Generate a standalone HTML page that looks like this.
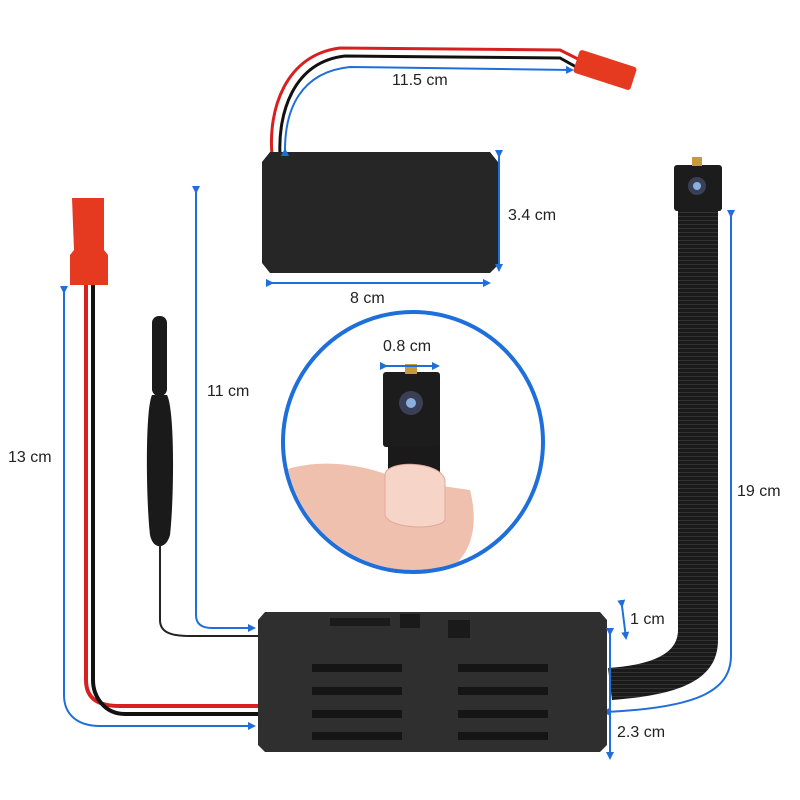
<!DOCTYPE html>
<html><head><meta charset="utf-8"><style>
html,body{margin:0;padding:0;background:#fff;}
svg{display:block}
text{font-family:"Liberation Sans",sans-serif;font-size:16px;fill:#222}
</style></head><body>
<svg width="800" height="800" viewBox="0 0 800 800" xmlns="http://www.w3.org/2000/svg">
<defs>
<marker id="ah" markerWidth="8" markerHeight="8" refX="6" refY="4" orient="auto" markerUnits="userSpaceOnUse">
<path d="M0,0 L8,4 L0,8 z" fill="#1e6fd9"/></marker>
<pattern id="rib" width="4" height="4" patternUnits="userSpaceOnUse"><rect width="4" height="4" fill="#1a1a1a"/><rect width="4" height="1" fill="#333"/></pattern>
</defs>
<rect width="800" height="800" fill="#fff"/>

<!-- battery wires -->
<path d="M272,155 C268,110 285,55 340,48 L560,50 L580,60" fill="none" stroke="#d82020" stroke-width="3"/>
<path d="M280,155 C278,115 292,62 345,56 L560,58 L578,68" fill="none" stroke="#111" stroke-width="3"/>
<g transform="rotate(18 605 70)"><rect x="575" y="58" width="60" height="24" rx="3" fill="#e53a1f"/></g>
<!-- battery -->
<path d="M270,152 L490,152 L498,162 L498,265 L490,273 L270,273 L262,263 L262,162 Z" fill="#262626"/>
<!-- blue arrows battery -->
<path d="M285,150 C285,110 300,72 350,67 L572,70" fill="none" stroke="#1e6fd9" stroke-width="2" marker-end="url(#ah)" marker-start="url(#ah)"/>
<text x="392" y="85">11.5 cm</text>
<line x1="499" y1="156" x2="499" y2="270" stroke="#1e6fd9" stroke-width="2" marker-end="url(#ah)" marker-start="url(#ah)"/>
<text x="508" y="220">3.4 cm</text>
<line x1="272" y1="283" x2="489" y2="283" stroke="#1e6fd9" stroke-width="2" marker-end="url(#ah)" marker-start="url(#ah)"/>
<text x="350" y="303">8 cm</text>

<!-- left red connector & wire -->
<path d="M72,198 L104,198 L104,250 L108,255 L108,285 L70,285 L70,255 L74,250 Z" fill="#e53a1f"/>
<path d="M86,285 L86,680 C86,700 100,706 120,706 L258,706" fill="none" stroke="#d82020" stroke-width="4"/>
<path d="M93,285 L93,680 C93,696 104,714 125,714 L258,714" fill="none" stroke="#111" stroke-width="4"/>
<path d="M64,292 L64,695 C64,715 78,726 100,726 L254,726" fill="none" stroke="#1e6fd9" stroke-width="2" marker-end="url(#ah)" marker-start="url(#ah)"/>
<text x="8" y="462">13 cm</text>

<!-- antenna -->
<rect x="152" y="316" width="15" height="80" rx="7" fill="#1a1a1a"/>
<path d="M152,395 C145,410 146,500 150,535 C153,550 166,550 170,535 C174,500 175,410 167,395 Z" fill="#1a1a1a"/>
<path d="M160,545 L160,620 C160,632 170,636 190,636 L258,636" fill="none" stroke="#222" stroke-width="2"/>
<path d="M196,192 L196,615 C196,624 202,628 212,628 L254,628" fill="none" stroke="#1e6fd9" stroke-width="2" marker-end="url(#ah)" marker-start="url(#ah)"/>
<text x="207" y="396">11 cm</text>

<!-- ribbon cable -->
<path d="M678,210 L718,210 L718,640 C718,680 680,695 612,700 L608,668 C650,665 678,655 678,630 Z" fill="url(#rib)"/>
<rect x="674" y="165" width="48" height="46" rx="3" fill="#1c1c1c"/>
<rect x="692" y="157" width="10" height="9" fill="#c49a3a"/>
<circle cx="697" cy="186" r="9" fill="#3a3f55"/><circle cx="697" cy="186" r="4" fill="#8ab0e0"/>
<path d="M731,216 L731,655 C731,690 700,708 604,712" fill="none" stroke="#1e6fd9" stroke-width="2" marker-end="url(#ah)" marker-start="url(#ah)"/>
<text x="737" y="496">19 cm</text>

<!-- circle inset -->
<circle cx="413" cy="442" r="130" fill="#fff" stroke="#1e6fd9" stroke-width="4"/>
<clipPath id="cc"><circle cx="413" cy="442" r="128"/></clipPath>
<g clip-path="url(#cc)">
<rect x="388" y="440" width="52" height="130" fill="#1a1a1a"/>
<path d="M285,470 C330,455 380,470 400,480 L470,490 C480,530 470,560 440,575 L285,575 Z" fill="#f0c0ae"/>
<path d="M385,475 C385,460 440,460 445,480 L445,520 C440,530 390,530 385,515 Z" fill="#f6d4c8" stroke="#e0a898"/>
</g>
<rect x="383" y="372" width="57" height="75" rx="3" fill="#1c1c1c"/>
<rect x="405" y="364" width="12" height="10" fill="#c49a3a"/>
<circle cx="411" cy="403" r="12" fill="#3a3f55"/><circle cx="411" cy="403" r="5" fill="#8ab0e0"/>
<line x1="386" y1="366" x2="438" y2="366" stroke="#1e6fd9" stroke-width="2" marker-end="url(#ah)" marker-start="url(#ah)"/>
<text x="383" y="351">0.8 cm</text>

<!-- main module -->
<path d="M265,612 L600,612 L607,620 L607,745 L600,752 L265,752 L258,745 L258,620 Z" fill="#2f2f2f"/>
<rect x="330" y="618" width="60" height="8" fill="#1a1a1a"/>
<rect x="400" y="614" width="20" height="14" fill="#1a1a1a"/>
<rect x="448" y="620" width="22" height="18" fill="#1a1a1a"/>
<g fill="#151515">
<rect x="312" y="664" width="90" height="8"/><rect x="458" y="664" width="90" height="8"/>
<rect x="312" y="687" width="90" height="8"/><rect x="458" y="687" width="90" height="8"/>
<rect x="312" y="710" width="90" height="8"/><rect x="458" y="710" width="90" height="8"/>
<rect x="312" y="732" width="90" height="8"/><rect x="458" y="732" width="90" height="8"/>
</g>
<line x1="622" y1="606" x2="626" y2="638" stroke="#1e6fd9" stroke-width="2" marker-end="url(#ah)" marker-start="url(#ah)"/>
<text x="630" y="624">1 cm</text>
<line x1="610" y1="634" x2="610" y2="758" stroke="#1e6fd9" stroke-width="2" marker-end="url(#ah)" marker-start="url(#ah)"/>
<text x="617" y="737">2.3 cm</text>
</svg>
</body></html>
